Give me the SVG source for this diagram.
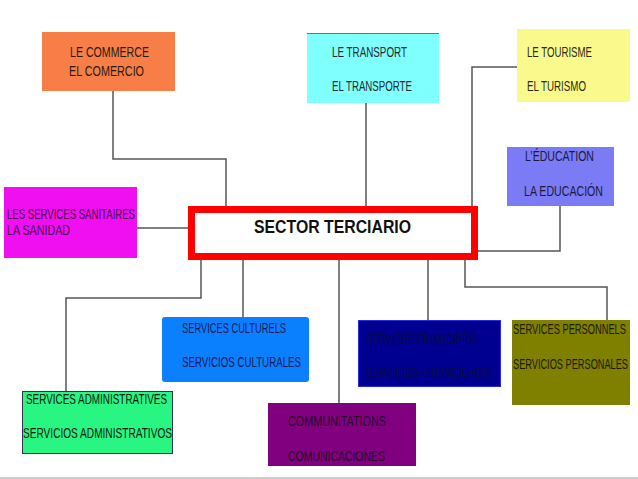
<svg xmlns="http://www.w3.org/2000/svg" width="638" height="479" viewBox="0 0 638 479">
<style>
.t{font-family:"Liberation Sans",Arial,sans-serif;font-size:14px;}
.c{fill:none;stroke:#555;stroke-width:1.5;}
</style>
<rect width="638" height="479" fill="#fff"/>
<line x1="0" y1="478" x2="638" y2="478" stroke="#bbb" stroke-width="1.5"/>
<g id="connectors" class="c">
<polyline points="113,91 113,159 226,159 226,207"/>
<line x1="366" y1="103" x2="366" y2="207"/>
<polyline points="517,67 472,67 472,207"/>
<polyline points="560,206 560,251 478,251"/>
<line x1="137" y1="228" x2="189" y2="228"/>
<polyline points="201,259 201,298 66,298 66,391"/>
<line x1="243" y1="259" x2="243" y2="317"/>
<line x1="339" y1="259" x2="339" y2="403"/>
<line x1="428" y1="259" x2="428" y2="320"/>
<polyline points="465,259 465,287 607,287 607,320"/>
</g>
<g id="commerce">
<rect x="42" y="32" width="133" height="59" fill="#F77F47"/>
<text class="t" x="70" y="57" fill="#2a1a10" textLength="79" lengthAdjust="spacingAndGlyphs">LE COMMERCE</text>
<text class="t" x="69" y="76" fill="#2a1a10" textLength="75" lengthAdjust="spacingAndGlyphs">EL COMERCIO</text>
</g>
<g id="transport">
<rect x="307" y="33" width="132" height="70" fill="#80FFFF"/>
<line x1="307" y1="33.5" x2="439" y2="33.5" stroke="#3a8a8a" stroke-width="1"/>
<text class="t" x="332" y="57" fill="#1a2a2a" textLength="75" lengthAdjust="spacingAndGlyphs">LE TRANSPORT</text>
<text class="t" x="332" y="91" fill="#1a2a2a" textLength="80" lengthAdjust="spacingAndGlyphs">EL TRANSPORTE</text>
</g>
<g id="tourisme">
<rect x="517" y="29" width="113" height="73" fill="#FAFA8C"/>
<text class="t" x="527" y="57" fill="#2a2a10" textLength="65" lengthAdjust="spacingAndGlyphs">LE TOURISME</text>
<text class="t" x="527" y="91" fill="#2a2a10" textLength="59" lengthAdjust="spacingAndGlyphs">EL TURISMO</text>
</g>
<g id="education">
<rect x="507" y="147" width="107" height="59" fill="#7B7BF5"/>
<text class="t" x="525" y="161" fill="#1a1a3a" textLength="69" lengthAdjust="spacingAndGlyphs">L’ÉDUCATION</text>
<text class="t" x="524" y="196" fill="#1a1a3a" textLength="79" lengthAdjust="spacingAndGlyphs">LA EDUCACIÓN</text>
</g>
<g id="sanitaires">
<rect x="4" y="187" width="133" height="71" fill="#F00FF0"/>
<text class="t" x="7" y="219" fill="#4a1050" textLength="128" lengthAdjust="spacingAndGlyphs">LES SERVICES SANITAIRES</text>
<text class="t" x="7" y="235" fill="#4a1050" textLength="63" lengthAdjust="spacingAndGlyphs">LA SANIDAD</text>
</g>
<g id="sector">
<rect x="191.5" y="209.5" width="283" height="47" fill="#fff" stroke="#FF0000" stroke-width="7"/>
<text x="254" y="233" font-family="Liberation Sans,Arial,sans-serif" font-size="18" font-weight="bold" fill="#111" textLength="157" lengthAdjust="spacingAndGlyphs">SECTOR TERCIARIO</text>
</g>
<g id="culturels">
<rect x="162" y="317" width="147" height="65" rx="3" fill="#0A80FF"/>
<text class="t" x="182" y="333" fill="#1a1a5a" textLength="104" lengthAdjust="spacingAndGlyphs">SERVICES CULTURELS</text>
<text class="t" x="182" y="367" fill="#1a1a5a" textLength="119" lengthAdjust="spacingAndGlyphs">SERVICIOS CULTURALES</text>
</g>
<g id="administratives">
<rect x="22.5" y="391.5" width="150" height="62" fill="#28F582" stroke="#335" stroke-width="1"/>
<text class="t" x="26" y="404" fill="#102010" textLength="141" lengthAdjust="spacingAndGlyphs">SERVICES ADMINISTRATIVES</text>
<text class="t" x="23" y="438" fill="#102010" textLength="149" lengthAdjust="spacingAndGlyphs">SERVICIOS ADMINISTRATIVOS</text>
</g>
<g id="communications">
<rect x="268" y="403" width="148" height="63" fill="#800080"/>
<text class="t" x="288" y="426" fill="#2a0a2a" textLength="98" lengthAdjust="spacingAndGlyphs">COMMUNITATIONS</text>
<text class="t" x="288" y="461" fill="#2a0a2a" textLength="97" lengthAdjust="spacingAndGlyphs">COMUNICACIONES</text>
</g>
<g id="financiers">
<rect x="358.5" y="320.5" width="142" height="66" fill="#000090" stroke="#2a2ae0" stroke-width="1"/>
<text class="t" x="366" y="344" fill="#0a0a40" textLength="110" lengthAdjust="spacingAndGlyphs">SERVICES FINANCIERS</text>
<text class="t" x="366" y="377" fill="#0a0a40" textLength="124" lengthAdjust="spacingAndGlyphs">SERVICIOS FINANCIEROS</text>
</g>
<g id="personnels">
<rect x="512" y="320" width="118" height="85" fill="#808000"/>
<text class="t" x="513" y="334" fill="#1a1a05" textLength="113" lengthAdjust="spacingAndGlyphs">SERVICES PERSONNELS</text>
<text class="t" x="513" y="369" fill="#1a1a05" textLength="115" lengthAdjust="spacingAndGlyphs">SERVICIOS PERSONALES</text>
</g>
</svg>
